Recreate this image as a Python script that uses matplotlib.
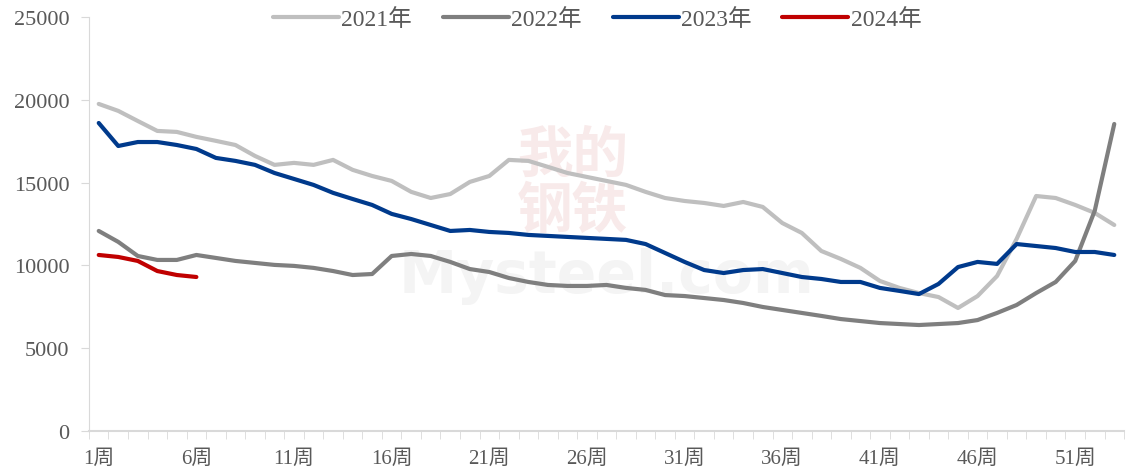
import numpy as np
import matplotlib.pyplot as plt
from matplotlib.ticker import FixedLocator, MultipleLocator

plt.rcParams['font.family'] = ['Liberation Serif', 'Noto Sans CJK SC']

# 周数与各年数据
weeks = np.arange(1, 54)
week_labels = [f'{w}周' for w in weeks]

y2021 = [19750, 19330, 18720, 18120, 18060, 17760, 17520, 17270, 16610, 16070,
         16190, 16070, 16370, 15770, 15400, 15100, 14440, 14070, 14310, 15040,
         15400, 16370, 16310, 15950, 15580, 15340, 15100, 14860, 14440, 14070,
         13890, 13770, 13590, 13830, 13530, 12560, 11960, 10870, 10390, 9850,
         9060, 8640, 8330, 8090, 7430, 8150, 9360, 11600, 14190, 14070,
         13650, 13170, 12440]
y2022 = [12080, 11420, 10570, 10330, 10330, 10630, 10450, 10270, 10150, 10030,
         9970, 9850, 9660, 9420, 9480, 10570, 10690, 10570, 10210, 9780,
         9600, 9240, 9000, 8820, 8760, 8760, 8820, 8640, 8520, 8210,
         8150, 8030, 7910, 7730, 7490, 7310, 7130, 6950, 6760, 6640,
         6520, 6460, 6400, 6460, 6520, 6700, 7130, 7610, 8330, 9000,
         10270, 13300, 18540]
y2023 = [18600, 17210, 17450, 17450, 17270, 17030, 16490, 16310, 16070, 15580,
         15220, 14860, 14380, 14010, 13650, 13110, 12800, 12440, 12080, 12140,
         12020, 11960, 11840, 11780, 11720, 11660, 11600, 11540, 11290, 10750,
         10210, 9720, 9540, 9720, 9780, 9540, 9300, 9180, 9000, 9000,
         8640, 8460, 8270, 8880, 9900, 10210, 10090, 11290, 11170, 11050,
         10810, 10810, 10630]
y2024 = [10630, 10510, 10270, 9660, 9420, 9300]

series = [('2021年', y2021, '#BFBFBF'),
          ('2022年', y2022, '#7F7F7F'),
          ('2023年', y2023, '#003A8C'),
          ('2024年', y2024, '#C00000')]

fig = plt.figure(figsize=(11.29, 4.77), dpi=100)
ax = fig.add_axes([0.0788, 0.0943, 0.9168, 0.868])

for name, vals, col in series:
    ax.plot(weeks[:len(vals)], vals, color=col, lw=3, label=name,
            solid_joinstyle='round', solid_capstyle='round')

# 水印（很淡）
ax.text(0.467, 0.60, '我的\n钢铁', transform=ax.transAxes, ha='center', va='center',
        fontsize=40, color='#F8EAEA', family='Noto Sans CJK SC',
        fontweight='bold', zorder=0, linespacing=1.0)
ax.text(0.50, 0.375, 'Mysteel.com', transform=ax.transAxes, ha='center', va='center',
        fontsize=42, color='#F4F4F4', family='DejaVu Sans',
        fontweight='bold', zorder=0)

ax.set_xlim(0.5, 53.5)
ax.set_ylim(0, 25000)
ax.yaxis.set_major_locator(MultipleLocator(5000))

ax.set_xticks(weeks[::5])
ax.set_xticklabels(week_labels[::5])
ax.xaxis.set_minor_locator(FixedLocator(np.arange(0.5, 54, 1)))
ax.tick_params(axis='x', which='major', length=0, pad=13, labelsize=15)
ax.tick_params(axis='x', which='minor', length=6, color='#D9D9D9', direction='out')
ax.tick_params(axis='y', length=6, color='#D9D9D9', pad=8, labelsize=16)
ax.tick_params(labelcolor='#595959')

for s in ['top', 'right']:
    ax.spines[s].set_visible(False)
ax.spines['left'].set_color('#D9D9D9')
ax.spines['bottom'].set_color('#D9D9D9')
ax.spines['bottom'].set_linewidth(1.5)

fig.legend(loc='center', bbox_to_anchor=(0.529, 0.958), ncol=4, frameon=False,
           fontsize=17, labelcolor='#595959', handlelength=2.8, handletextpad=0.1,
           columnspacing=1.3)

fig.savefig('out.png', dpi=100)
